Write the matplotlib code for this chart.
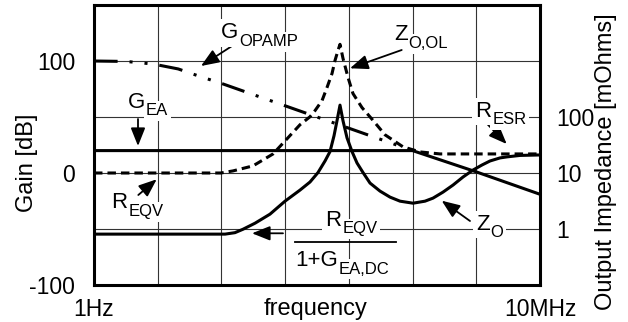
import matplotlib
matplotlib.use("Agg")
import numpy as np
import matplotlib.pyplot as plt
from matplotlib.ticker import FixedLocator, NullLocator, FixedFormatter

plt.rcParams['font.family'] = ['Liberation Sans', 'DejaVu Sans']
plt.rcParams['lines.scale_dashes'] = False

# ---- data -------------------------------------------------------------
# op-amp open-loop gain [dB]
opamp_freq = [1, 3.2, 8.5, 21, 46, 100, 1e3, 1e4, 1e5]
opamp_gain_db = [100, 99.6, 97.3, 92.9, 86.2, 80, 60, 40, 20]

# error-amplifier gain [dB] (limited by the op-amp above 100 kHz)
ea_freq = [1, 1e5, 1e6, 1e7]
ea_gain_db = [20, 20, 1, -19]

# open-loop output impedance [mOhm]
zol_freq = [1, 98, 152, 313, 646, 1070, 1710, 2455, 2944, 3793, 4539, 5445,
            6067, 6761, 7261, 8091, 9705, 11610, 16090, 23100, 36950, 70800,
            130900, 269800, 1e7]
zol_mohm = [10, 10, 10.9, 13.4, 21.9, 40.8, 72.7, 101, 130, 196, 336, 599,
            1024, 1549, 1986, 1114, 508, 262, 147, 91.3, 48.1, 29.3,
            23.8, 21.9, 21.9]

# closed-loop output impedance [mOhm]
zo_freq = [1, 114, 163, 218, 337, 578, 995, 1710, 2455, 3281, 4227, 5058,
           5848, 6516, 7261, 8091, 9354, 11220, 13430, 16670, 21480, 30830,
           44260, 63530, 101600, 156700, 209400, 300600, 431500, 619400,
           889200, 1230000, 1644000, 2360000, 3034000, 4853000, 1e7]
zo_mohm = [0.81, 0.81, 0.86, 0.99, 1.27, 1.84, 3.14, 4.95, 6.9, 10.2, 16.4,
           24.1, 46.2, 85.8, 163, 85.8, 42.5, 24.1, 15.1, 10.2, 6.61, 4.75,
           3.71, 3.14, 2.89, 3.14, 3.56, 4.56, 6.09, 8.48, 11.3, 13.9, 16.4,
           18.6, 19.4, 20.6, 21.0]

gain_ticks = [-100, -50, 0, 50, 100, 150]
gain_ticklabels = ['-100', '', '0', '', '100', '']
imp_ticks = [1, 10, 100]
imp_ticklabels = ['1', '10', '100']
freq_ticks = [10.0 ** k for k in range(8)]
freq_ticklabels = ['1Hz', '', '', '', '', '', '', '10MHz']

# ---- figure -------------------------------------------------------------
W, H = 628, 322
fig = plt.figure(figsize=(W / 100, H / 100), dpi=100)
ax = fig.add_axes([94 / W, 1 - 285 / H, 446 / W, 280 / H])

FS = 16.5
ax.set_xscale('log')
ax.set_xlim(1, 1e7)
ax.set_ylim(-100, 150)
ax.xaxis.set_major_locator(FixedLocator(freq_ticks))
ax.xaxis.set_major_formatter(FixedFormatter(freq_ticklabels))
ax.xaxis.set_minor_locator(NullLocator())
ax.yaxis.set_major_locator(FixedLocator(gain_ticks))
ax.yaxis.set_major_formatter(FixedFormatter(gain_ticklabels))
ax.grid(True, color='0.2', lw=0.8)
ax.tick_params(length=0, labelsize=FS)
ax.tick_params(axis='y', pad=13.5)
ax.tick_params(axis='x', pad=9)
for s in ax.spines.values():
    s.set_linewidth(2.2)

ax2 = ax.twinx()
ax2.set_yscale('log')
ax2.set_ylim(0.1, 1e4)
ax2.yaxis.set_major_locator(FixedLocator(imp_ticks))
ax2.yaxis.set_major_formatter(FixedFormatter(imp_ticklabels))
ax2.yaxis.set_minor_locator(NullLocator())
ax2.tick_params(length=0, labelsize=FS, pad=12)
for s in ax2.spines.values():
    s.set_visible(False)

LW = 2.2
ax.plot(opamp_freq, opamp_gain_db, color='black', lw=LW,
        dashes=(17, 8.6, 2.2, 8.6, 2.2, 8.6), dash_capstyle='butt')
ax.plot(ea_freq, ea_gain_db, color='black', lw=LW)
ax2.plot(zol_freq, zol_mohm, color='black', lw=LW, dashes=(6.1, 3.6),
         dash_capstyle='butt')
ax2.plot(zo_freq, zo_mohm, color='black', lw=LW)

# ---- labels -------------------------------------------------------------
fig.text(27 / W, (H - 163) / H, 'Gain [dB]', rotation=90, ha='center',
         va='center', fontsize=17)
fig.text(606 / W, (H - 162) / H, 'Output Impedance [mOhms]', rotation=90,
         ha='center', va='center', fontsize=17)
fig.text(316 / W, (H - 315) / H, 'frequency', ha='center', va='baseline',
         fontsize=17)

box = dict(boxstyle='square,pad=0.15', fc='white', ec='none')


def label(main, sub, x, yb, drop=8, fs=16, sfs=12):
    """Symbol with a subscript; a white pass first hides the grid below."""
    for knock_out in (True, False):
        kw = (dict(bbox=box, color='white', zorder=4) if knock_out
              else dict(color='black', zorder=5))
        t = ax2.annotate(main, xy=(x, H - yb), xycoords='figure pixels',
                         ha='left', va='baseline', fontsize=fs, **kw)
        if sub:
            ax2.annotate(sub, xy=(1, H - yb - drop),
                         xycoords=(t, 'figure pixels'),
                         xytext=(0.6, 0), textcoords='offset points',
                         ha='left', va='baseline', fontsize=sfs, **kw)


def arrow(x0, y0, x1, y1):
    ax2.annotate('', xy=(x1, H - y1), xytext=(x0, H - y0),
                 xycoords='figure pixels', textcoords='figure pixels',
                 arrowprops=dict(arrowstyle='-|>,head_length=0.55,head_width=0.22',
                                 mutation_scale=20, lw=1.3, color='black',
                                 shrinkA=0, shrinkB=0))


label('G', 'OPAMP', 221, 38.5)
arrow(232, 46, 201, 66)
label('Z', 'O,OL', 394, 40)
arrow(401.7, 50, 350, 68.3)
label('G', 'EA', 128, 108, drop=7)
arrow(138, 119, 138, 146)
label('R', 'EQV', 111.5, 208)
arrow(138.3, 195, 156.7, 179.3)
label('R', 'ESR', 475.5, 117, drop=7)
arrow(485, 121.7, 506.7, 144)
label('Z', 'O', 476, 230, drop=7)
arrow(470, 221, 441.7, 200.7)

label('R', 'EQV', 325.5, 225.5)
label('1+G', 'EA,DC', 295, 265.5)
fig.add_artist(plt.Line2D([295 / W, 396 / W], [(H - 242) / H, (H - 242) / H],
                          color='black', lw=1.3, zorder=6))
arrow(283, 233.3, 252, 233.3)

fig.savefig('out.png', dpi=100)
